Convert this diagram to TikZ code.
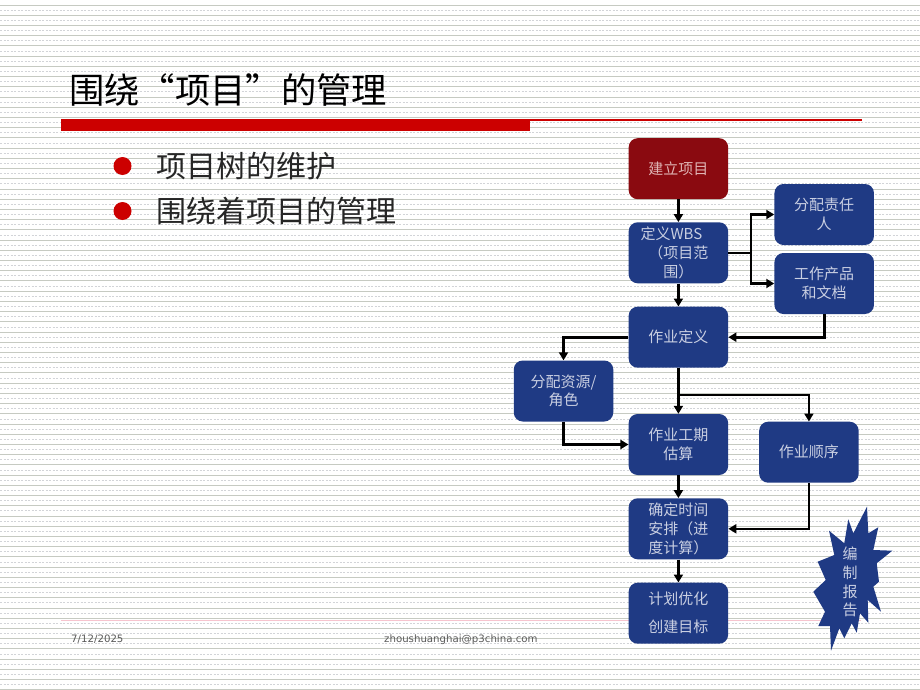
\documentclass[tikz,border=0pt]{standalone}
\usepackage{fontspec}
\setmainfont{Noto Sans CJK SC}
\newfontfamily\latinfont{DejaVu Sans}
\usetikzlibrary{arrows.meta}
\definecolor{boxblue}{HTML}{1F3A84}
\definecolor{boxred}{HTML}{8A0A10}
\definecolor{boxtext}{HTML}{C9CFE2}
\definecolor{redtext}{HTML}{E0B4B4}
\definecolor{barred}{HTML}{CC0000}
\definecolor{ruleline}{HTML}{C6CAC2}
\definecolor{dotline}{HTML}{D2D4D8}
\definecolor{footpink}{HTML}{F6C4CE}
\definecolor{foottext}{HTML}{5A5A5A}
\tikzset{
  x=1pt,y=-1pt,
  flowbox/.style={draw=none,fill=boxblue,rounded corners=9pt,minimum width=99.5pt,minimum height=61pt,inner sep=0pt,
    text=boxtext,font=\fontsize{15}{18.6}\selectfont,align=center},
  flowred/.style={flowbox,fill=boxred,text=redtext},
  link/.style={line width=2.6pt,-{Triangle[length=8pt,width=9pt]},black},
  linkplain/.style={line width=2.6pt,black},
  bulletdot/.style={circle,fill=barred,minimum size=18pt,inner sep=0pt},
  bodytext/.style={anchor=west,inner sep=0pt,font=\fontsize{30}{36}\selectfont,text=black!85},
  foot/.style={inner sep=0pt,text=foottext,font=\latinfont\fontsize{10.2}{12}\selectfont}
}
\begin{document}
\begin{tikzpicture}
\useasboundingbox (0,0) rectangle (920,690);
\fill[white] (0,0) rectangle (920,690);
% ruled background
\foreach \k in {0,...,67}{
  \draw[ruleline,line width=0.9pt] (0,5+10.22*\k) -- (920,5+10.22*\k);
  \draw[dotline,line width=0.8pt,dash pattern=on 2pt off 1.5pt] (0,10.1+10.22*\k) -- (920,10.1+10.22*\k);
}
% title
\node[anchor=west,inner sep=0pt,font=\fontsize{35.3}{40}\selectfont,text=black] (title) at (69,90) {围绕“项目”的管理};
\fill[barred] (61,119.5) rectangle (529.7,131.3);
\fill[barred] (529,119.3) rectangle (861.7,120.8);
% bullets
\node[bulletdot] (b1) at (122.5,166) {};
\node[bulletdot] (b2) at (122.5,211) {};
\node[bodytext] (t1) at (156,166) {项目树的维护};
\node[bodytext] (t2) at (156,211) {围绕着项目的管理};
% footer
\draw[footpink,line width=0.9pt] (61,620.6) -- (861,620.6);
\node[foot,anchor=west] (date) at (71,639.5) {7/12/2025};
\node[foot,anchor=west] (mail) at (384,639.5) {zhoushuanghai@p3china.com};
% boxes
\node[flowred] (start) at (678.4,168.7) {建立项目};
\node[flowbox] (wbs) at (678.4,252.8) {定义WBS\hspace*{14pt}\\（项目范\\围）\hspace*{0pt}};
\node[flowbox] (def) at (678.4,337.2) {作业定义};
\node[flowbox] (resp) at (824.2,214.5) {分配责任\\人};
\node[flowbox] (prod) at (824.2,283.5) {工作产品\\和文档};
\node[flowbox] (res) at (563.5,391) {分配资源/\\角色};
\node[flowbox] (dur) at (678.4,444.5) {作业工期\\估算};
\node[flowbox] (seq) at (808.9,452.2) {作业顺序};
\node[flowbox] (sch) at (678.4,528.8) {确定时间\\安排（进\\度计算）};
\node[flowbox,font=\fontsize{15}{28}\selectfont] (opt) at (678.4,613.2) {计划优化\\创建目标};
% star
\fill[boxblue] (867,506.7) -- (868.3,533.3) -- (878.3,527.3) -- (873.3,550) -- (892.3,550.7) -- (876.7,563.3)
  -- (879,581.7) -- (873.3,586.7) -- (881,611.7) -- (867.7,600) -- (868.3,622.7) -- (860,613.3)
  -- (856.7,632.7) -- (851.7,623.3) -- (844.3,638.3) -- (839.3,628.3) -- (831,650.7) -- (830,626)
  -- (818.3,626) -- (825,611.7) -- (813.3,591.7) -- (825.7,580) -- (817.7,561.7) -- (834.3,555)
  -- (829,530.7) -- (844.3,543.3) -- (848.3,519.3) -- (853.3,533.3) -- cycle;
\node[inner sep=0pt,text=boxtext,font=\fontsize{15}{18.7}\selectfont,align=center] (rep) at (850,582) {编\\制\\报\\告};
% connectors
\coordinate (wbsfork) at (751,252.8);
\coordinate (branch) at (678.4,395);
\draw[link] (start.south) -- (wbs.north);
\draw[link] (wbs.south) -- (def.north);
\draw[linkplain] (wbs.east) -- (wbsfork);
\draw[link] (wbsfork) |- (resp.west);
\draw[link] (wbsfork) |- (prod.west);
\draw[link] (prod.south) |- (def.east);
\draw[link] (def.west) -| (res.north);
\draw[link] (def.south) -- (dur.north);
\draw[link] (branch) -| (seq.north);
\draw[link] (res.south) |- (dur.west);
\draw[link] (dur.south) -- (sch.north);
\draw[link] (seq.south) |- (sch.east);
\draw[link] (sch.south) -- (opt.north);
\end{tikzpicture}
\end{document}
